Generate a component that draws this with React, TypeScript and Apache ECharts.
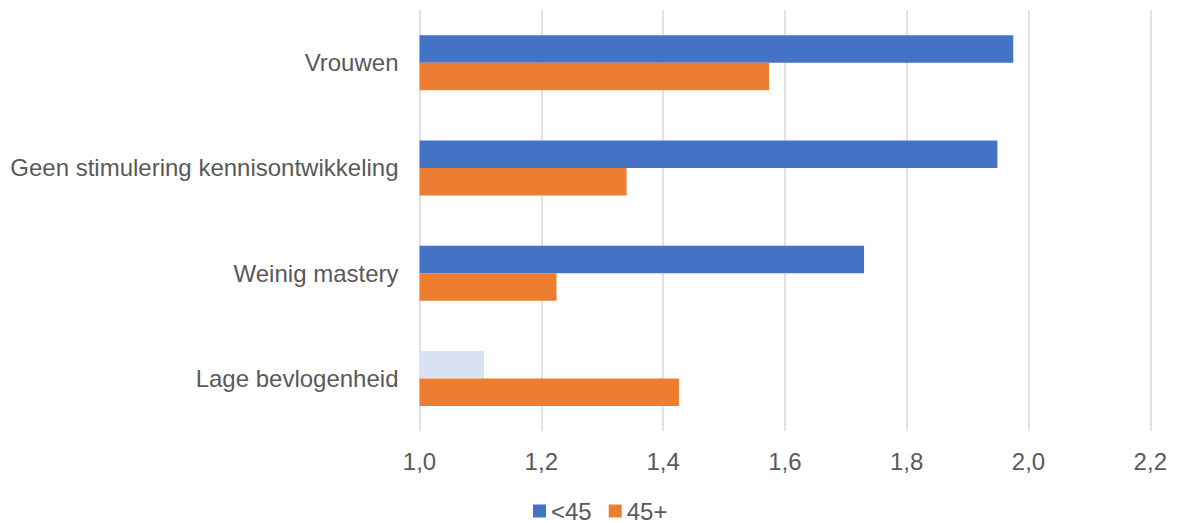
import React, { useEffect, useRef } from "react";
import * as echarts from "echarts";

const categories = [
  "Vrouwen",
  "Geen stimulering kennisontwikkeling",
  "Weinig mastery",
  "Lage bevlogenheid",
];
const seriesNames = ["<45", "45+"];
const valuesUnder45 = [1.975, 1.949, 1.73, 1.106];
const values45Plus = [1.574, 1.34, 1.225, 1.426];
const xTicks = { min: 1.0, max: 2.2, interval: 0.2 };

const BLUE = "#4472C4";
const ORANGE = "#ED7D31";
const LIGHT_BLUE = "#DAE3F3";
const TEXT = "#595959";
const FONT = "Liberation Sans, Arial, sans-serif";

export default function App() {
  const ref = useRef<HTMLDivElement>(null);
  useEffect(() => {
    if (!ref.current) return;
    const chart = echarts.init(ref.current, undefined, { renderer: "svg" });
    chart.setOption({
      animation: false,
      backgroundColor: "#ffffff",
      grid: { left: 419.5, right: 28.7, top: 10, bottom: 92, containLabel: false },
      legend: {
        top: 499,
        left: 533,
        itemWidth: 13,
        itemHeight: 13,
        itemGap: 17,
        padding: 0,
        icon: "rect",
        textStyle: { color: TEXT, fontSize: 24, fontFamily: FONT },
        data: seriesNames,
      },
      xAxis: {
        type: "value",
        min: xTicks.min,
        max: xTicks.max,
        interval: xTicks.interval,
        axisLine: { show: false },
        axisTick: { show: false },
        axisLabel: {
          color: TEXT,
          fontSize: 24,
          fontFamily: FONT,
          margin: 18,
          formatter: (v: number) => v.toFixed(1).replace(".", ","),
        },
        splitLine: { show: true, lineStyle: { color: "#D9D9D9", width: 1.5 } },
      },
      yAxis: {
        type: "category",
        inverse: true,
        data: categories,
        axisLine: { show: false },
        axisTick: { show: false },
        axisLabel: { color: TEXT, fontSize: 24, fontFamily: FONT, margin: 21 },
      },
      series: [
        {
          name: seriesNames[0],
          type: "bar",
          barWidth: 27.5,
          barGap: "0%",
          itemStyle: { color: BLUE },
          data: valuesUnder45.map((v, i) =>
            i === 3 ? { value: v, itemStyle: { color: LIGHT_BLUE } } : v
          ),
        },
        {
          name: seriesNames[1],
          type: "bar",
          barWidth: 27.5,
          barGap: "0%",
          itemStyle: { color: ORANGE },
          data: values45Plus,
        },
      ],
    });
    return () => chart.dispose();
  }, []);
  return (
    <div
      ref={ref}
      style={{ position: "fixed", left: 0, top: 0, width: 1179, height: 523 }}
    />
  );
}
